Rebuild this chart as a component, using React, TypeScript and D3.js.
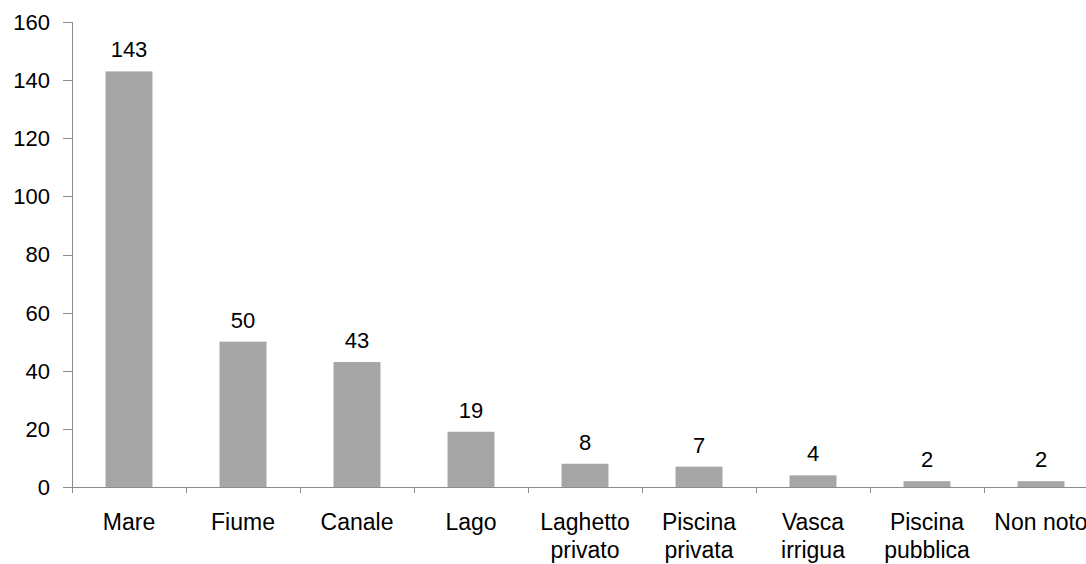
import React from "react";
import * as d3 from "d3";

const categories = ["Mare", "Fiume", "Canale", "Lago", "Laghetto privato", "Piscina privata", "Vasca irrigua", "Piscina pubblica", "Non noto"];
const categoryLines = [["Mare"], ["Fiume"], ["Canale"], ["Lago"], ["Laghetto", "privato"], ["Piscina", "privata"], ["Vasca", "irrigua"], ["Piscina", "pubblica"], ["Non noto"]];
const values = [143, 50, 43, 19, 8, 7, 4, 2, 2];
const yTicks = [0, 20, 40, 60, 80, 100, 120, 140, 160];

const W = 1086;
const H = 564;
const left = 72;
const top = 22;
const bottom = 487;
const right = left + 9 * 114;

export default function App() {
  const x = d3.scaleBand<string>().domain(categories).range([left, right]).paddingInner(0.588).paddingOuter(0.294);
  const y = d3.scaleLinear().domain([0, 160]).range([bottom, top]);
  const step = x.step();
  const font = "Liberation Sans, Arial, sans-serif";
  const axisColor = "#8c8c8c";
  const fs = 22;

  return (
    <svg width={W} height={H} style={{ position: "absolute", left: 0, top: 0 }} fontFamily={font}>
      <rect width={W} height={H} fill="#fff" />
      {values.map((v, i) => {
        const c = categories[i];
        return (
          <g key={c}>
            <rect x={x(c)} y={y(v)} width={x.bandwidth()} height={bottom - y(v)} fill="#a6a6a6" />
            <text x={x(c)! + x.bandwidth() / 2} y={y(v) - 14} textAnchor="middle" fontSize={fs} fill="#000">
              {v}
            </text>
          </g>
        );
      })}
      {/* y axis */}
      <line x1={left + 0.5} x2={left + 0.5} y1={top} y2={bottom} stroke={axisColor} strokeWidth={1} />
      {yTicks.map((t) => (
        <g key={t}>
          <line x1={left - 9} x2={left} y1={Math.round(y(t)) + 0.5} y2={Math.round(y(t)) + 0.5} stroke={axisColor} />
          <text x={50} y={y(t)} dy="0.36em" textAnchor="end" fontSize={fs} fill="#000">
            {t}
          </text>
        </g>
      ))}
      {/* x axis */}
      <line x1={left} x2={right} y1={bottom + 0.5} y2={bottom + 0.5} stroke={axisColor} />
      {d3.range(categories.length + 1).map((i) => (
        <line key={i} x1={left + i * step + 0.5} x2={left + i * step + 0.5} y1={bottom} y2={bottom + 6} stroke={axisColor} />
      ))}
      {categoryLines.map((lines, i) => (
        <text key={i} x={x(categories[i])! + x.bandwidth() / 2} y={530} textAnchor="middle" fontSize={23} fill="#000">
          {lines.map((l, j) => (
            <tspan key={j} x={x(categories[i])! + x.bandwidth() / 2} y={530 + j * 28}>
              {l}
            </tspan>
          ))}
        </text>
      ))}
    </svg>
  );
}
